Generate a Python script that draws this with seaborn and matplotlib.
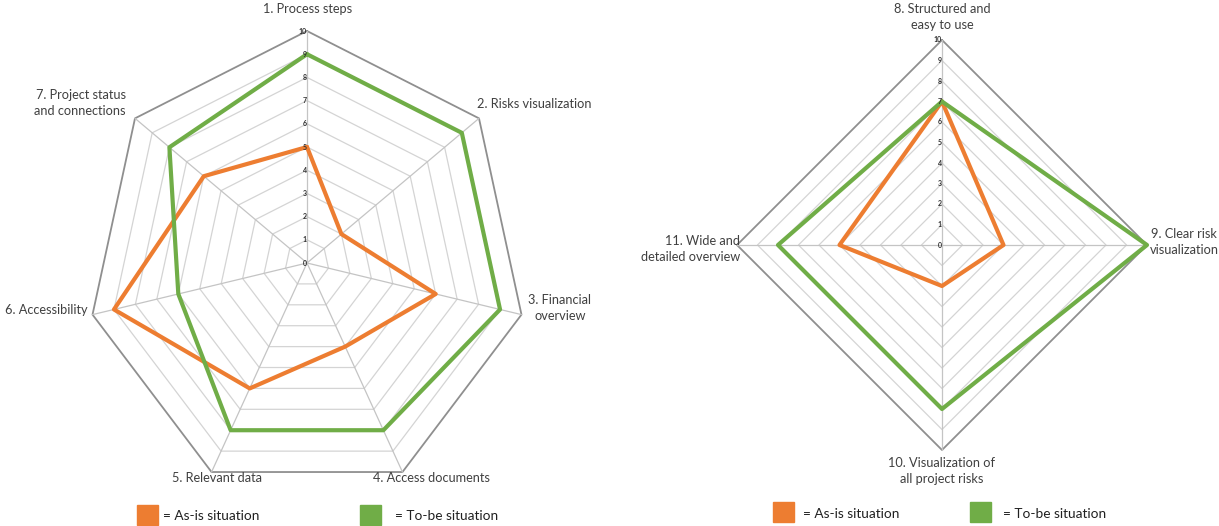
import numpy as np
import matplotlib
matplotlib.use("Agg")
import matplotlib.pyplot as plt
import seaborn as sns
from matplotlib.patches import Rectangle

sns.set_theme(style="white")
plt.rcParams['font.family'] = ['Lato', 'DejaVu Sans']

# ---- data ----
left_categories = ["1. Process steps", "2. Risks visualization", "3. Financial\noverview",
                   "4. Access documents", "5. Relevant data", "6. Accessibility",
                   "7. Project status\nand connections"]
left_asis = [5, 2, 6, 4, 6, 9, 6]
left_tobe = [9, 9, 9, 8, 8, 6, 8]

right_categories = ["8. Structured and\neasy to use", "9. Clear risk\nvisualization",
                    "10. Visualization of\nall project risks", "11. Wide and\ndetailed overview"]
right_asis = [7, 3, 2, 5]
right_tobe = [7, 10, 8, 8]

series_names = ["= As-is situation", "= To-be situation"]
radial_ticks = list(range(0, 11))

ORANGE = "#ED7D31"
GREEN = "#70AD47"
TXT = "#404040"

W, H = 1219, 526
fig = plt.figure(figsize=(W / 100, H / 100), dpi=100)


def fx(x):
    return x / W


def fy(y):
    return 1 - y / H


def radar(rect, n, asis, tobe):
    ax = fig.add_axes(rect, projection="polar")
    ax.set_aspect("auto")
    ax.set_theta_zero_location("N")
    ax.set_theta_direction(-1)
    ang = np.linspace(0, 2 * np.pi, n, endpoint=False)
    angc = np.append(ang, 2 * np.pi)
    # rings
    for k in radial_ticks[1:]:
        rr = np.full(n + 1, k)
        ax.plot(angc, rr, color="#8f8f8f" if k == 10 else "#d4d4d4",
                lw=1.3 if k == 10 else 0.9, zorder=1, clip_on=False)
    # spokes
    for a in ang:
        ax.plot([a, a], [0, 10], color="#c4c4c4", lw=0.9, zorder=1, clip_on=False)
    # series
    for vals, col in [(asis, ORANGE), (tobe, GREEN)]:
        v = np.append(np.array(vals, float), vals[0])
        sns.lineplot(x=angc, y=v, ax=ax, sort=False, estimator=None,
                     color=col, lw=3.0, zorder=3, clip_on=False)
    # radial tick labels
    for k in radial_ticks:
        ax.text(0, k, str(k), fontsize=5, fontweight="bold", color="#303030",
                ha="right", va="center", zorder=4)
    ax.set_ylim(0, 10)
    ax.set_xticks([])
    ax.set_yticks([])
    ax.grid(False)
    ax.spines["polar"].set_visible(False)
    ax.set_xlabel("")
    ax.set_ylabel("")
    ax.patch.set_alpha(0)
    return ax


# left chart: centre (307,263), Rx 220, Ry 232
radar([fx(307 - 220), fy(263 + 232), 440 / W, 464 / H], 7, left_asis, left_tobe)
# right chart: centre (942,245), R 205
radar([fx(942 - 205), fy(245 + 205), 410 / W, 410 / H], 4, right_asis, right_tobe)

fs = 9.2
# left labels
left_pos = [(308, 9, "center"), (477, 104, "left"), (560, 308, "center"),
            (373, 478, "left"), (217, 478, "center"), (88, 310, "right"),
            (126, 103, "right")]
for lab, (x, y, ha) in zip(left_categories, left_pos):
    fig.text(fx(x), fy(y), lab, ha=ha, va="center", fontsize=fs, color=TXT,
             multialignment="center" if ha == "center" else ha, linespacing=1.35)

right_pos = [(942, 17, "center"), (1184, 242, "center"), (942, 471, "center"),
             (740, 249, "right")]
for lab, (x, y, ha) in zip(right_categories, right_pos):
    fig.text(fx(x), fy(y), lab, ha=ha, va="center", fontsize=fs, color=TXT,
             multialignment="center" if ha == "center" else ha, linespacing=1.35)

# legends
legend_items = [(137, 505, ORANGE, series_names[0], 163, 516),
                (360, 505, GREEN, series_names[1], 395, 516),
                (773, 502, ORANGE, series_names[0], 803, 514),
                (970, 502, GREEN, series_names[1], 1003, 514)]
for (x, y, col, name, tx, ty) in legend_items:
    fig.patches.append(Rectangle((fx(x), fy(y + 20)), 21 / W, 20 / H,
                                 transform=fig.transFigure, color=col, zorder=5))
    fig.text(fx(tx), fy(ty), name, ha="left", va="center", fontsize=9.8, color="#202020")

fig.savefig("out.png", dpi=100)
